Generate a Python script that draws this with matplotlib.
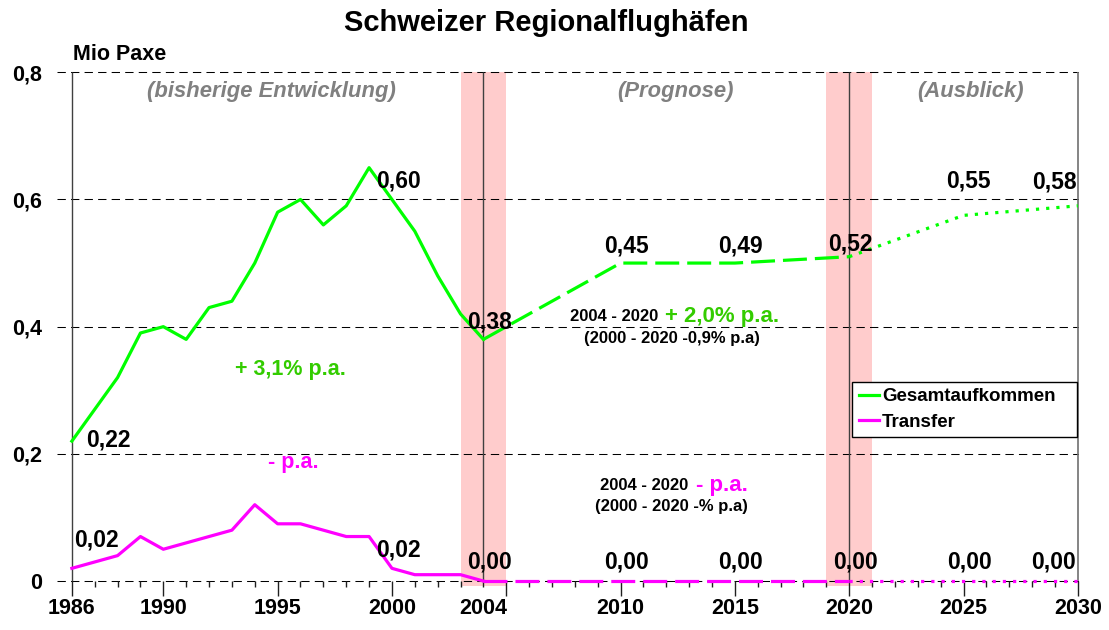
import matplotlib
matplotlib.use("Agg")
from matplotlib import pyplot as plt
from matplotlib.lines import Line2D
from matplotlib.ticker import FixedLocator

plt.rcParams["font.family"] = ["Liberation Sans", "DejaVu Sans"]
plt.rcParams["font.weight"] = "bold"

# --- data ------------------------------------------------------------------
hist_years = list(range(1986, 2005))
gesamt_hist = [0.22, 0.27, 0.32, 0.39, 0.40, 0.38, 0.43, 0.44, 0.50, 0.58,
               0.60, 0.56, 0.59, 0.65, 0.60, 0.55, 0.48, 0.42, 0.38]
transfer_hist = [0.02, 0.03, 0.04, 0.07, 0.05, 0.06, 0.07, 0.08, 0.12, 0.09,
                 0.09, 0.08, 0.07, 0.07, 0.02, 0.01, 0.01, 0.01, 0.00]

prog_years = [2004, 2010, 2015, 2020]
gesamt_prog = [0.38, 0.50, 0.50, 0.51]
transfer_prog = [0.00, 0.00, 0.00, 0.00]

outlook_years = [2020, 2025, 2030]
gesamt_outlook = [0.51, 0.575, 0.59]
transfer_outlook = [0.00, 0.00, 0.00]

# value labels as printed in the chart
gesamt_label_years = [1986, 2000, 2004, 2010, 2015, 2020, 2025, 2030]
gesamt_labels = ["0,22", "0,60", "0,38", "0,45", "0,49", "0,52", "0,55", "0,58"]
transfer_label_years = [1986, 2000, 2004, 2010, 2015, 2020, 2025, 2030]
transfer_labels = ["0,02", "0,02", "0,00", "0,00", "0,00", "0,00", "0,00", "0,00"]

xtick_years = [1986, 1990, 1995, 2000, 2004, 2010, 2015, 2020, 2025, 2030]
long_tick_years = [1986, 1990, 1995, 2000, 2005, 2010, 2015, 2020, 2025, 2030]
yticks = [0, 0.2, 0.4, 0.6, 0.8]
ytick_labels = ["0", "0,2", "0,4", "0,6", "0,8"]

breaks = [2004, 2020]
bands = [(2003, 2005), (2019, 2021)]

GREEN = "#00FF00"
GREEN_TXT = "#33CC00"
MAGENTA = "#FF00FF"
BAND = "#FFCCCC"

# --- figure ----------------------------------------------------------------
W, H = 1109, 630
fig = plt.figure(figsize=(W / 100, H / 100), dpi=100)
y_lo, y_hi = -0.007, 0.802
ax = fig.add_axes([57 / W, (H - 585.5) / H, 1022 / W, (585.5 - 71) / H])
ax.set_xlim(1985.35, 2030.05)
ax.set_ylim(y_lo, y_hi)

for a, b in bands:
    ax.fill_betweenx([y_lo, 0.8], a, b, color=BAND, lw=0, zorder=0)

for y in yticks:
    ax.axhline(y, color="black", lw=0.75, dashes=(8, 5), zorder=1)

ax.vlines([1986] + breaks, 0, 0.8, color="#404040", lw=1, zorder=2)
ax.vlines([2030], 0, 0.8, color="#707070", lw=1.2, zorder=2)

lw = 2.3
dash = (7.5, 2.5)
dot = (1, 2.2)
ax.plot(hist_years, transfer_hist, color=MAGENTA, lw=lw, zorder=3)
ax.plot(prog_years, transfer_prog, color=MAGENTA, lw=lw, dashes=dash, zorder=3)
ax.plot(outlook_years, transfer_outlook, color=MAGENTA, lw=lw, dashes=dot, zorder=3)
ax.plot(hist_years, gesamt_hist, color=GREEN, lw=lw, zorder=4)
ax.plot(prog_years, gesamt_prog, color=GREEN, lw=lw, dashes=dash, zorder=4)
ax.plot(outlook_years, gesamt_outlook, color=GREEN, lw=lw, dashes=dot, zorder=4)

# --- axes styling ----------------------------------------------------------
for side in ["top", "right", "left"]:
    ax.spines[side].set_visible(False)
ax.spines["bottom"].set_position(("data", 0))
ax.spines["bottom"].set_color("none")

ax.xaxis.set_major_locator(FixedLocator(long_tick_years))
ax.xaxis.set_minor_locator(FixedLocator(range(1986, 2031)))
ax.set_xticklabels([])
ax.tick_params(axis="x", which="major", direction="out", length=11, width=1, color="#202020")
ax.tick_params(axis="x", which="minor", direction="out", length=4, width=1, color="#202020")
for yr in xtick_years:
    ax.annotate(str(yr), xy=(yr, 0), xytext=(0, -17), textcoords="offset pixels",
                ha="center", va="top", fontsize=15.5, fontweight="bold")

ax.set_yticks(yticks)
ax.set_yticklabels(ytick_labels, fontsize=15.5, fontweight="bold")
ax.tick_params(axis="y", length=0, pad=11)

# --- value labels ----------------------------------------------------------
all_years = hist_years + prog_years[1:] + outlook_years[1:]
gesamt_all = gesamt_hist + gesamt_prog[1:] + gesamt_outlook[1:]
transfer_all = transfer_hist + transfer_prog[1:] + transfer_outlook[1:]

g_off = {1986: (37, 1), 2000: (7, 18), 2004: (6, 17), 2010: (6, 17), 2015: (6, 17),
         2020: (1, 13), 2025: (5, 34), 2030: (-23, 24)}
t_off = {1986: (25, 28), 2000: (6, 18), 2004: (6, 19), 2010: (6, 19), 2015: (6, 19),
         2020: (6, 19), 2025: (6, 19), 2030: (-24, 19)}
for yr, txt in zip(gesamt_label_years, gesamt_labels):
    ax.annotate(txt, xy=(yr, gesamt_all[all_years.index(yr)]), xytext=g_off[yr],
                textcoords="offset pixels", ha="center", va="center",
                fontsize=16.5, fontweight="bold", zorder=6)
for yr, txt in zip(transfer_label_years, transfer_labels):
    ax.annotate(txt, xy=(yr, transfer_all[all_years.index(yr)]), xytext=t_off[yr],
                textcoords="offset pixels", ha="center", va="center",
                fontsize=16.5, fontweight="bold", zorder=6)

# --- growth notes ----------------------------------------------------------
ax.text(1995.58, 0.332, "+ 3,1% p.a.", color=GREEN_TXT, fontsize=15.5,
        ha="center", va="center")
ax.text(1995.7, 0.187, "- p.a.", color=MAGENTA, fontsize=15.5, ha="center", va="center")

ax.text(2011.63, 0.4165, "2004 - 2020", fontsize=12, ha="right", va="center")
ax.text(2011.93, 0.4165, "+ 2,0% p.a.", color=GREEN_TXT, fontsize=16, ha="left", va="center")
ax.text(2012.24, 0.382, "(2000 - 2020 -0,9% p.a)", fontsize=12, ha="center", va="center")

ax.text(2012.98, 0.150, "2004 - 2020", fontsize=12, ha="right", va="center")
ax.text(2013.29, 0.150, "- p.a.", color=MAGENTA, fontsize=16, ha="left", va="center")
ax.text(2012.24, 0.117, "(2000 - 2020 -% p.a)", fontsize=12, ha="center", va="center")

for xc, txt in [(1994.75, "(bisherige Entwicklung)"), (2012.42, "(Prognose)"),
                (2025.32, "(Ausblick)")]:
    ax.text(xc, 0.769, txt, color="#808080", style="italic", fontsize=15.8,
            ha="center", va="center")

# --- legend ----------------------------------------------------------------
handles = [Line2D([], [], color=GREEN, lw=lw), Line2D([], [], color=MAGENTA, lw=lw)]
leg = ax.legend(handles, ["Gesamtaufkommen", "Transfer"], loc="upper left",
                bbox_to_anchor=(0.778, 0.3963, 0.22, 0.0), mode="expand",
                borderaxespad=0, borderpad=0.35, labelspacing=0.45,
                handlelength=1.1, handletextpad=0.15, fancybox=False,
                framealpha=1, edgecolor="black", prop={"size": 13.5, "weight": "bold"})
leg.get_frame().set_linewidth(1)
leg.set_zorder(7)

fig.text(546 / W, 1 - 23 / H, "Schweizer Regionalflughäfen", fontsize=21,
         ha="center", va="center")
fig.text(73 / W, 1 - 55 / H, "Mio Paxe", fontsize=15.5, ha="left", va="center")

fig.savefig("out.png", dpi=100)
